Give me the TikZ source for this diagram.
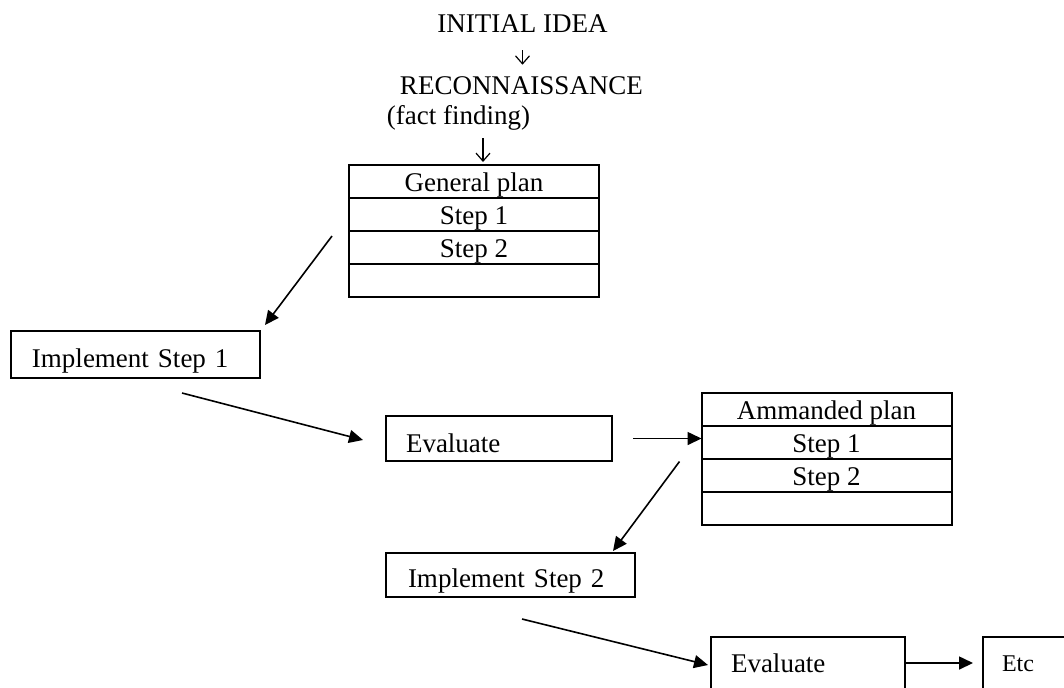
\documentclass[tikz,border=0pt]{standalone}
\usepackage{fontspec}
\setmainfont{Liberation Serif}
\usetikzlibrary{calc}
\usetikzlibrary{positioning}
\usetikzlibrary{arrows.meta}

\begin{document}
\begin{tikzpicture}[x=0.5pt,y=-0.5pt,
    every node/.style={font=\fontsize{13.5}{16}\selectfont},
    caption/.style={inner sep=0pt,anchor=base},
    planrow/.style={draw,line width=1pt,minimum width=125pt,minimum height=16.5pt,inner sep=0pt,outer sep=0pt,text height=9.5pt,text depth=0pt},
    flowbox/.style={draw,line width=0.9pt,anchor=north west,align=left,inner ysep=0pt,outer sep=0pt,text depth=0pt},
    flow/.style={-{Triangle[length=7pt,width=6.5pt]},line width=0.8pt},
    glyph/.style={-{Straight Barb[length=4pt,width=7pt]},line width=0.6pt}]
  \useasboundingbox (0,0) rectangle (1064,687);
  \clip (0,0) rectangle (1064,687);

  \node[caption] (idea)  at (522.5,32)  {INITIAL IDEA};
  \node[caption] (recon) at (521.5,94)  {RECONNAISSANCE};
  \node[caption] (fact)  at (458.5,124) {(fact finding)};

  \node[planrow,anchor=north] (gplan) at (474,165) {General plan};
  \node[planrow] (gstep1) [below=0pt of gplan]  {Step 1};
  \node[planrow] (gstep2) [below=0pt of gstep1] {Step 2};
  \node[planrow] (gblank) [below=0pt of gstep2] {};

  \node[planrow,anchor=north] (aplan) at (826.5,393) {Ammanded plan};
  \node[planrow] (astep1) [below=0pt of aplan]  {Step 1};
  \node[planrow] (astep2) [below=0pt of astep1] {Step 2};
  \node[planrow] (ablank) [below=0pt of astep2] {};

  \node[flowbox,minimum width=124.5pt,minimum height=23.5pt,inner xsep=10.5pt,text width=103.5pt,text height=12.5pt] (impl1) at (11,331) {Implement Step 1};
  \node[flowbox,minimum width=113pt,minimum height=22.5pt,inner xsep=10pt,text width=93pt,text height=13.5pt] (eval1) at (386,416) {Evaluate};
  \node[flowbox,minimum width=124.5pt,minimum height=22pt,inner xsep=11pt,text width=102.5pt,text height=12pt] (impl2) at (386,553) {Implement Step 2};
  \node[flowbox,minimum width=97pt,minimum height=26pt,inner xsep=10pt,text width=77pt,text height=9pt] (eval2) at (711,637) {Evaluate};
  \node[flowbox,minimum width=46pt,minimum height=26pt,inner xsep=9.5pt,text width=27pt,text height=8pt,font=\fontsize{12}{14}\selectfont] (etc) at (983,637) {Etc};

  \draw[glyph] ($(idea.south)+(0,18)$) -- ($(recon.north)+(1,-11)$);
  \draw[glyph] ($(fact.south)+(24.5,8)$) -- ($(gplan.north)+(9,-3)$);
  \draw[flow] ($(gstep2.west)+(-17,-11.5)$) -- ($(impl1.north east)+(5,-6)$);
  \draw[flow] ($(impl1.south east)+(-78,15)$) -- ($(eval1.west)+(-23,1.5)$);
  \draw[flow] ($(eval1.east)+(21,0)$) -- (eval1.east -| astep1.west);
  \draw[flow] ($(astep2.west)+(-22,-14)$) -- ($(impl2.north east)+(-22,-2)$);
  \draw[flow] ($(impl2.south east)+(-113,22)$) -- ($(eval2.west)+(-3,2)$);
  \draw[flow] (eval2.east) -- ($(etc.west)+(-10,0)$);
\end{tikzpicture}
\end{document}
